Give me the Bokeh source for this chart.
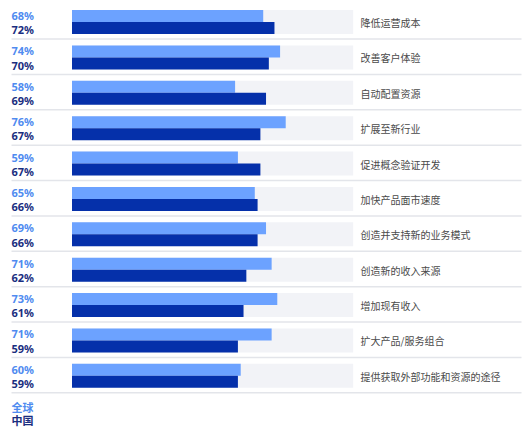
from bokeh.plotting import figure
from bokeh.models import Range1d, ColumnDataSource
from bokeh.core.properties import value
from bokeh.embed import file_html
from bokeh.resources import INLINE

categories = ["降低运营成本", "改善客户体验", "自动配置资源", "扩展至新行业", "促进概念验证开发",
              "加快产品面市速度", "创造并支持新的业务模式", "创造新的收入来源", "增加现有收入",
              "扩大产品/服务组合", "提供获取外部功能和资源的途径"]
global_vals = [68, 74, 58, 76, 59, 65, 69, 71, 73, 71, 60]
china_vals = [72, 70, 69, 67, 67, 66, 66, 62, 61, 59, 59]
legend_labels = ["全球", "中国"]

LIGHT = "#6CA2FF"
DARK = "#0530AA"
LIGHT_TXT = "#4F8BF0"
DARK_TXT = "#1A2E80"
FONT = "Noto Sans"
CJK = "Noto Sans CJK SC"

W, H = 530, 428
PITCH = 35.38           # px per row
TOP = 9.5               # top of first track, px
X0_PX, PX_PER_PCT = 71.5, 2.812

def px_x(px):
    return (px - X0_PX) / PX_PER_PCT

p = figure(width=W, height=H, output_backend="svg", toolbar_location=None,
           x_range=Range1d(px_x(0), px_x(W)), y_range=Range1d(H, 0),
           min_border=0, outline_line_color=None, background_fill_color="white",
           border_fill_color="white")
p.axis.visible = False
p.grid.visible = False

n = len(categories)
idx = list(range(n))
row = [TOP + i * PITCH for i in idx]
src = ColumnDataSource(dict(
    cat=categories,
    g=global_vals,
    c=china_vals,
    g_txt=[f"{v}%" for v in global_vals],
    c_txt=[f"{v}%" for v in china_vals],
    track_top=row,
    track_bot=[r + 24 for r in row],
    g_bot=[r + 12 for r in row],
    c_bot=[r + 24 for r in row],
    track_mid=[r + 12.5 for r in row],
    g_mid=[r + 5.5 for r in row],
    c_mid=[r + 19.8 for r in row],
    sep=[r + 29 for r in row],
    zero=[0] * n,
    full=[100] * n,
    sx0=[px_x(11)] * n,
    sx1=[px_x(521)] * n,
))

# tracks
p.quad(left="zero", right="full", top="track_top", bottom="track_bot", source=src,
       fill_color="#F2F3F7", line_color=None)
# bars
p.quad(left="zero", right="g", top="track_top", bottom="g_bot", source=src,
       fill_color=LIGHT, line_color=None)
p.quad(left="zero", right="c", top="g_bot", bottom="c_bot", source=src,
       fill_color=DARK, line_color=None)
# separators
p.segment(x0="sx0", x1="sx1", y0="sep", y1="sep", source=src,
          line_color="#E3E5EA", line_width=1.5)

# percent labels
p.text(x=px_x(11), y="g_mid", text="g_txt", source=src, text_font=value(FONT),
       text_font_size="11px", text_font_style="bold", text_color=LIGHT_TXT,
       text_baseline="middle", text_align="left")
p.text(x=px_x(11), y="c_mid", text="c_txt", source=src, text_font=value(FONT),
       text_font_size="11px", text_font_style="bold", text_color=DARK_TXT,
       text_baseline="middle", text_align="left")

# category labels
p.text(x=px_x(360), y="track_mid", text="cat", source=src, text_font=value(CJK),
       text_font_size="10px", text_color="#4A4A4A",
       text_baseline="middle", text_align="left")

# legend texts
p.text(x=[px_x(11), px_x(11)], y=[406.5, 419], text=legend_labels,
       text_color=[LIGHT_TXT, DARK_TXT], text_font=value(CJK),
       text_font_size="11px", text_font_style="bold",
       text_baseline="middle", text_align="left")

open("out.html", "w").write(file_html(p, INLINE))
